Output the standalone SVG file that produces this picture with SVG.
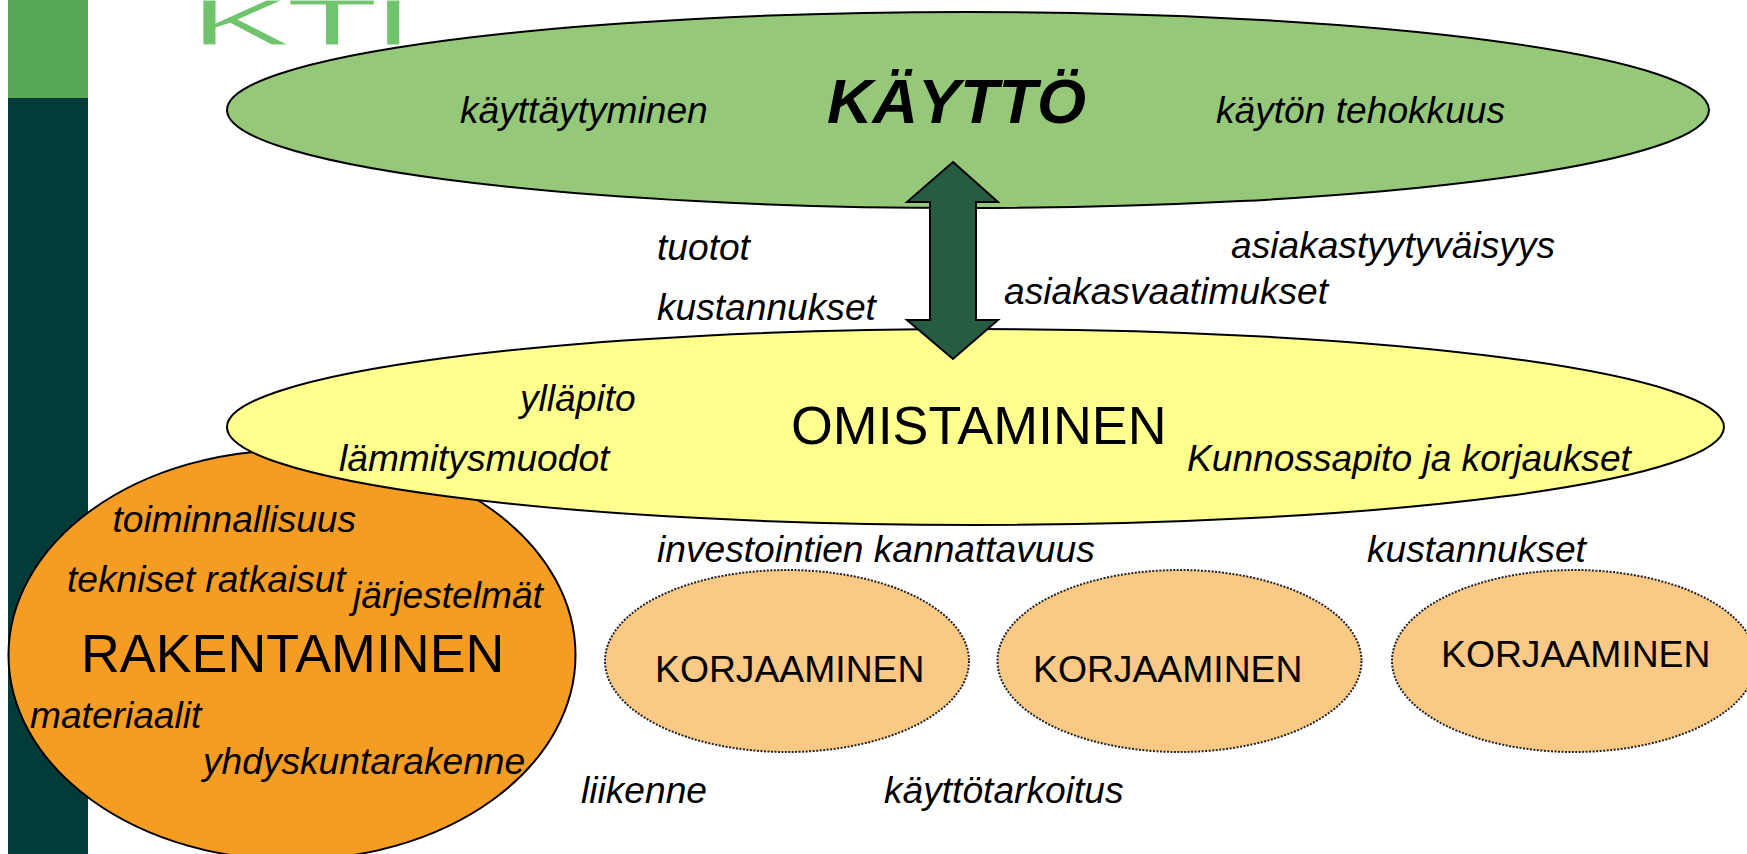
<svg xmlns="http://www.w3.org/2000/svg" width="1747" height="854" viewBox="0 0 1747 854">
<style>
text{font-family:"Liberation Sans",Arial,sans-serif;fill:#000}
.l{font-size:37.15px;font-style:italic}
.h{font-size:53.8px}
.k{font-size:37.3px}
.main{stroke:#000;stroke-width:2}
.rep{fill:#FAC985;stroke:#222;stroke-width:2;stroke-dasharray:2 1.5}
</style>
<rect id="sidebar-dark" x="8" y="98" width="80" height="756" fill="#023C3A"/>
<rect id="sidebar-light" x="8" y="0" width="80" height="98" fill="#58A855"/>
<text id="logo" transform="scale(2.36 1)" x="80.5 121.2 157.7" y="44.500" font-size="64" style="fill:#6FC46C;stroke:#fff;stroke-width:.8">KTI</text>
<g id="rakentaminen">
<ellipse class="main" cx="292" cy="655" rx="283.5" ry="205" fill="#F59D23"/>
<text class="l" x="112.500" y="531.500">toiminnallisuus</text>
<text class="l" x="67" y="592">tekniset ratkaisut</text>
<text class="l" x="353" y="608">järjestelmät</text>
<text class="h" x="81" y="672">RAKENTAMINEN</text>
<text class="l" x="30" y="728">materiaalit</text>
<text class="l" x="203" y="774">yhdyskuntarakenne</text>
</g>
<g id="omistaminen">
<ellipse class="main" cx="975.500" cy="427" rx="748.500" ry="98" fill="#FFFF8D"/>
<text class="l" x="520" y="411">ylläpito</text>
<text class="h" x="791" y="444">OMISTAMINEN</text>
<text class="l" x="339" y="471">lämmitysmuodot</text>
<text class="l" x="1187" y="471">Kunnossapito ja korjaukset</text>
</g>
<g id="kaytto">
<ellipse class="main" cx="968" cy="110" rx="741" ry="98" fill="#96C879"/>
<text class="l" x="460" y="123">käyttäytyminen</text>
<text x="827" y="123" font-size="63" font-weight="bold" font-style="italic">KÄYTTÖ</text>
<text class="l" x="1216" y="123">käytön tehokkuus</text>
</g>
<g id="korjaaminen-1">
<ellipse class="rep" cx="787" cy="661" rx="182" ry="91"/>
<text class="k" x="655" y="682">KORJAAMINEN</text>
</g>
<g id="korjaaminen-2">
<ellipse class="rep" cx="1179.500" cy="661" rx="182" ry="91"/>
<text class="k" x="1033" y="682">KORJAAMINEN</text>
</g>
<g id="korjaaminen-3">
<ellipse class="rep" cx="1574" cy="661" rx="182" ry="91"/>
<text class="k" x="1441" y="667">KORJAAMINEN</text>
</g>
<g id="connectors">
<path d="M953 162L998 202H976V320H998L953 359L907 320H930V202H907Z" fill="#265C42" stroke="#000" stroke-width="2" stroke-linejoin="miter"/>
</g>
<g id="labels">
<text class="l" x="657" y="260">tuotot</text>
<text class="l" x="657" y="320">kustannukset</text>
<text class="l" x="1231" y="258">asiakastyytyväisyys</text>
<text class="l" x="1004" y="304">asiakasvaatimukset</text>
<text class="l" x="657" y="562">investointien kannattavuus</text>
<text class="l" x="1367" y="562">kustannukset</text>
<text class="l" x="581" y="803">liikenne</text>
<text class="l" x="884" y="803">käyttötarkoitus</text>
</g>
</svg>
